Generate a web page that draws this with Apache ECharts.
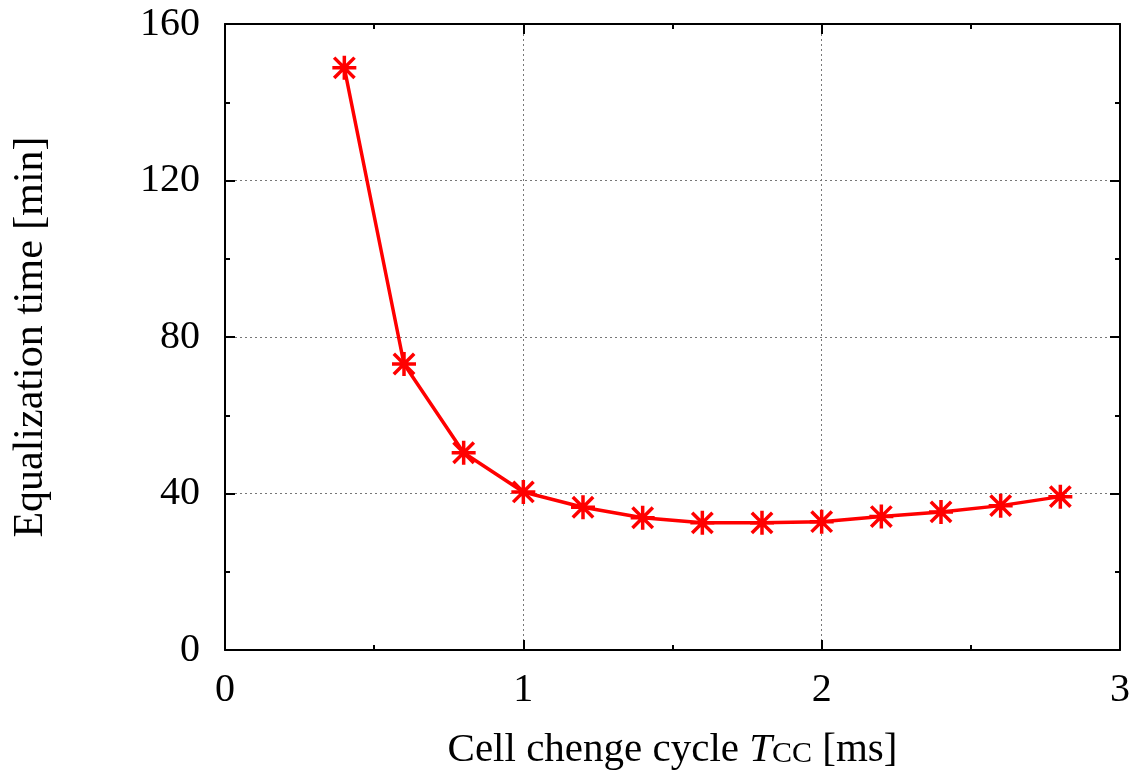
<!DOCTYPE html>
<html><head><meta charset="utf-8">
<script src="https://cdn.jsdelivr.net/npm/echarts@6/dist/echarts.min.js"></script>
<style>html,body{margin:0;padding:0;background:#fff}#c{width:1143px;height:782px}</style>
</head><body><div id="c"></div>
<script>
const cycleMs = [0.4, 0.6, 0.8, 1.0, 1.2, 1.4, 1.6, 1.8, 2.0, 2.2, 2.4, 2.6, 2.8];
const eqTimeMin = [148.8, 73.1, 50.4, 40.4, 36.5, 33.8, 32.5, 32.5, 32.8, 34.1, 35.3, 36.9, 39.2];
const xTickValues = [0, 1, 2, 3];
const yTickValues = [0, 40, 80, 120, 160];

const FONT = '"Liberation Serif", "DejaVu Serif", serif';
const chart = echarts.init(document.getElementById('c'), null, {renderer: 'canvas'});
const data = cycleMs.map((x, i) => [x, eqTimeMin[i]]);

const common = {
  axisLine: {show: true, onZero: false, lineStyle: {color: '#000', width: 2}},
  axisTick: {show: true, inside: true, length: 10, lineStyle: {color: '#000', width: 2}},
  minorTick: {show: true, splitNumber: 2, length: 5, lineStyle: {color: '#000', width: 2}},
};
const gridLine = {show: true, lineStyle: {color: '#777', width: 1, type: [2, 3]}};

chart.setOption({
  animation: false,
  backgroundColor: '#fff',
  grid: {left: 225, right: 23, top: 24, bottom: 132, containLabel: false},
  xAxis: [
    Object.assign({
      type: 'value', position: 'bottom',
      min: xTickValues[0], max: xTickValues[xTickValues.length - 1], interval: 1,
      axisLabel: {show: true, margin: 20, fontFamily: FONT, fontSize: 40, color: '#000'},
      splitLine: gridLine,
      name: '{m|Cell chenge cycle }{i|T}{s|CC}{m| [ms]}',
      nameLocation: 'middle', nameGap: 80,
      nameTextStyle: {fontFamily: FONT, fontSize: 41, color: '#000',
        rich: {
          m: {fontFamily: FONT, fontSize: 41, lineHeight: 41, color: '#000', verticalAlign: 'bottom'},
          i: {fontFamily: FONT, fontSize: 41, lineHeight: 41, fontStyle: 'italic', color: '#000', verticalAlign: 'bottom'},
          s: {fontFamily: FONT, fontSize: 30, lineHeight: 30, color: '#000', verticalAlign: 'bottom', padding: [0, 0, 2, 0]}
        }}
    }, common),
    Object.assign({
      type: 'value', position: 'top',
      min: xTickValues[0], max: xTickValues[xTickValues.length - 1], interval: 1,
      axisLabel: {show: false}, splitLine: {show: false}
    }, common)
  ],
  yAxis: [
    Object.assign({
      type: 'value', position: 'left',
      min: yTickValues[0], max: yTickValues[yTickValues.length - 1], interval: 40,
      axisLabel: {show: true, margin: 25, fontFamily: FONT, fontSize: 40, color: '#000'},
      splitLine: gridLine,
      name: 'Equalization time [min]',
      nameLocation: 'middle', nameGap: 173, nameRotate: 90,
      nameTextStyle: {fontFamily: FONT, fontSize: 42, color: '#000'}
    }, common),
    Object.assign({
      type: 'value', position: 'right',
      min: yTickValues[0], max: yTickValues[yTickValues.length - 1], interval: 40,
      axisLabel: {show: false}, splitLine: {show: false}
    }, common)
  ],
  series: [{
    type: 'line',
    xAxisIndex: 0, yAxisIndex: 0,
    data: data,
    lineStyle: {color: '#ff0000', width: 3.5},
    symbol: 'path://M0,-10L0,10M-10,0L10,0M-8.5,-8.5L8.5,8.5M-8.5,8.5L8.5,-8.5',
    symbolSize: 24,
    itemStyle: {color: 'rgba(0,0,0,0)', borderColor: '#ff0000', borderWidth: 3.5},
    z: 5
  }]
});
</script></body></html>
